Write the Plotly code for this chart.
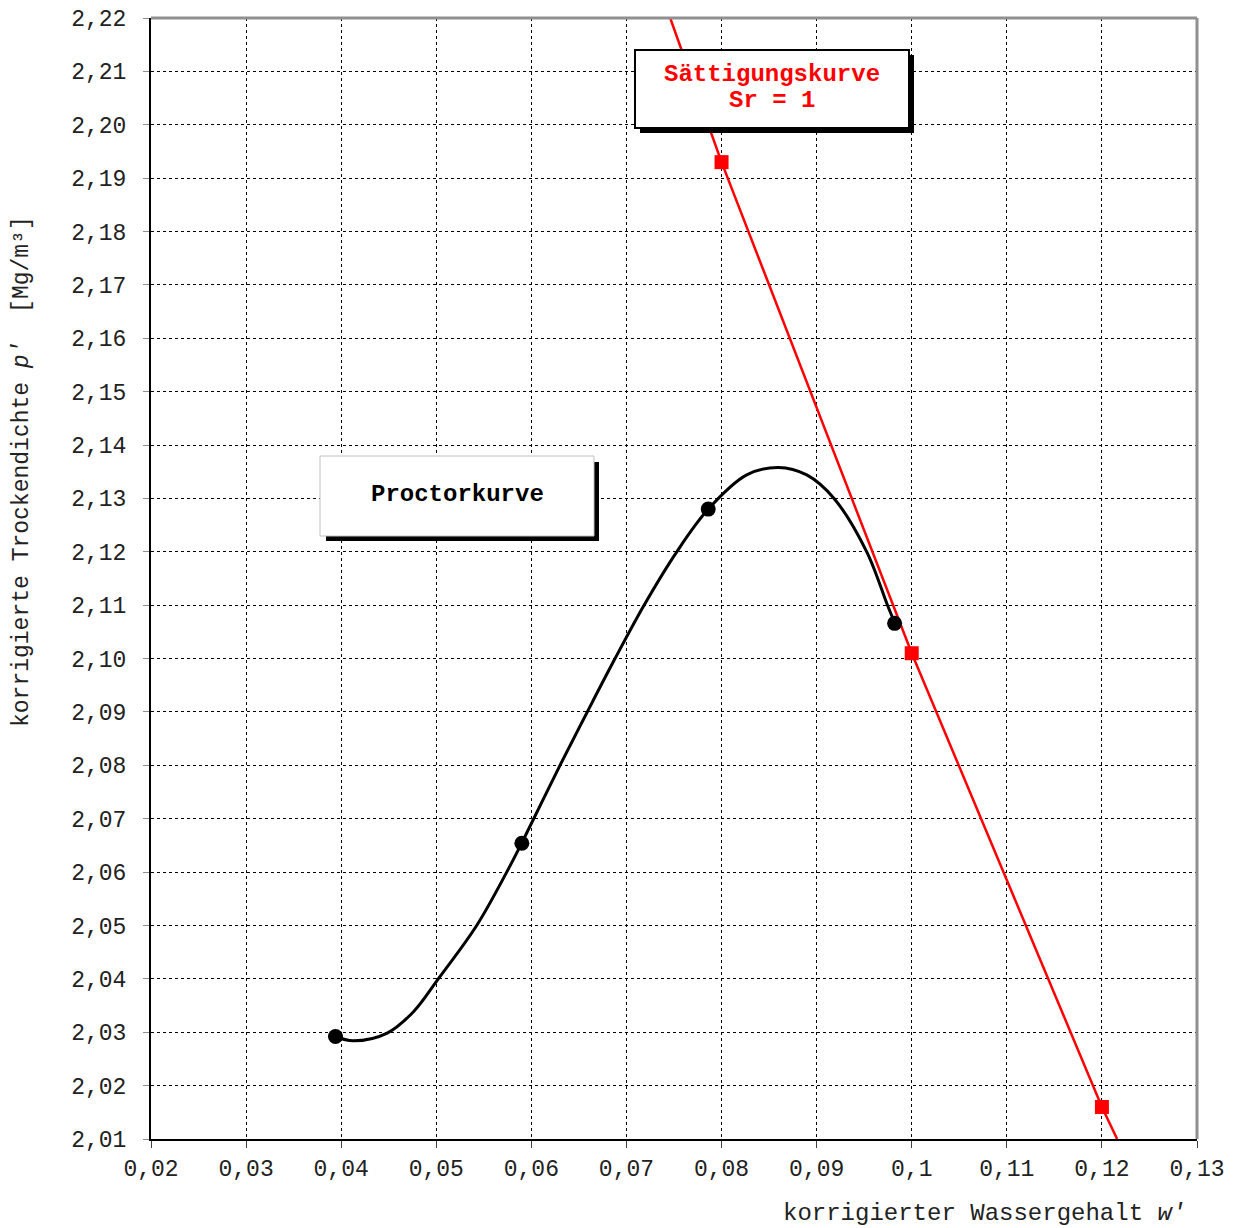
import plotly.graph_objects as go

# Proctor test points (water content w', dry density rho')
proctor_w = [0.0394, 0.0590, 0.0786, 0.0982]
proctor_rho = [2.0292, 2.0654, 2.1280, 2.1066]

# Proctor curve as drawn
proctor_curve_w = [0.03935, 0.04127, 0.04479, 0.04758, 0.05021, 0.05425, 0.05741, 0.05898,
                   0.06301, 0.06588, 0.06880, 0.07185, 0.07529, 0.07861,
                   0.08265, 0.08597, 0.08896, 0.09183, 0.09527, 0.09745, 0.09824]
proctor_curve_rho = [2.0292, 2.0284, 2.0298, 2.0338, 2.0400, 2.0500, 2.0600, 2.0654,
                     2.0800, 2.0900, 2.1000, 2.1100, 2.1200, 2.1280,
                     2.1344, 2.1358, 2.1344, 2.1300, 2.1200, 2.1100, 2.1066]

# Saturation curve Sr = 1 (marked points)
sat_w = [0.080, 0.100, 0.120]
sat_rho = [2.193, 2.101, 2.016]

# Saturation line as drawn (incl. ends read at the plot borders)
sat_line_w = [0.0746, 0.080, 0.100, 0.120, 0.1216]
sat_line_rho = [2.220, 2.193, 2.101, 2.016, 2.010]

x_tickvals = [0.02, 0.03, 0.04, 0.05, 0.06, 0.07, 0.08, 0.09, 0.10, 0.11, 0.12, 0.13]
x_ticktext = ["0,02", "0,03", "0,04", "0,05", "0,06", "0,07", "0,08", "0,09", "0,1", "0,11", "0,12", "0,13"]
y_tickvals = [round(2.01 + 0.01 * i, 2) for i in range(22)]
y_ticktext = [("%.2f" % v).replace(".", ",") for v in y_tickvals]

FONT = "Liberation Mono, Courier New, monospace"

fig = go.Figure()

fig.add_trace(go.Scatter(
    x=sat_line_w, y=sat_line_rho, mode="lines",
    line=dict(color="#ff0000", width=2.5), showlegend=False, hoverinfo="skip"))
fig.add_trace(go.Scatter(
    x=sat_w, y=sat_rho, mode="markers",
    marker=dict(symbol="square", size=14, color="#ff0000"), showlegend=False))
fig.add_trace(go.Scatter(
    x=proctor_curve_w, y=proctor_curve_rho, mode="lines",
    line=dict(color="black", width=3, shape="spline", smoothing=1.0, simplify=False),
    showlegend=False, hoverinfo="skip"))
fig.add_trace(go.Scatter(
    x=proctor_w, y=proctor_rho, mode="markers",
    marker=dict(symbol="circle", size=15, color="black"), showlegend=False))

def px_x(p):
    return (p - 151) / 1046.0

def px_y(p):
    return (1139 - p) / 1121.0

shapes = []
# top / right gray border
shapes.append(dict(type="line", xref="paper", yref="paper", x0=0, x1=1, y0=1, y1=1,
                   line=dict(color="#909090", width=3), layer="above"))
shapes.append(dict(type="line", xref="paper", yref="paper", x0=1, x1=1, y0=0, y1=1,
                   line=dict(color="#909090", width=3), layer="above"))
# Sättigungskurve box: shadow then box
shapes.append(dict(type="rect", xref="paper", yref="paper",
                   x0=px_x(640), x1=px_x(914), y0=px_y(133), y1=px_y(55),
                   fillcolor="black", line=dict(width=0), layer="above"))
shapes.append(dict(type="rect", xref="paper", yref="paper",
                   x0=px_x(635), x1=px_x(909), y0=px_y(128), y1=px_y(50),
                   fillcolor="white", line=dict(color="black", width=2), layer="above"))
# Proctorkurve box
shapes.append(dict(type="rect", xref="paper", yref="paper",
                   x0=px_x(326), x1=px_x(599), y0=px_y(541), y1=px_y(462),
                   fillcolor="black", line=dict(width=0), layer="above"))
shapes.append(dict(type="rect", xref="paper", yref="paper",
                   x0=px_x(320), x1=px_x(594), y0=px_y(536), y1=px_y(456),
                   fillcolor="white", line=dict(color="#c0c0c0", width=1), layer="above"))

annotations = [
    dict(xref="paper", yref="paper", x=px_x(772), y=px_y(74), showarrow=False,
         text="<b>Sättigungskurve</b>",
         font=dict(family=FONT, size=24, color="#ff0000"), xanchor="center", yanchor="middle"),
    dict(xref="paper", yref="paper", x=px_x(772), y=px_y(101), showarrow=False,
         text="<b>Sr = 1</b>",
         font=dict(family=FONT, size=24, color="#ff0000"), xanchor="center", yanchor="middle"),
    dict(xref="paper", yref="paper", x=px_x(457), y=px_y(495), showarrow=False,
         text="<b>Proctorkurve</b>", font=dict(family=FONT, size=24, color="black"),
         xanchor="center", yanchor="middle"),
    dict(xref="paper", yref="paper", x=px_x(1188), y=px_y(1214), showarrow=False,
         text="korrigierter Wassergehalt <i>w'</i>", font=dict(family=FONT, size=24, color="#222"),
         xanchor="right", yanchor="middle"),
    dict(xref="paper", yref="paper", x=px_x(22), y=px_y(472), showarrow=False,
         text="korrigierte Trockendichte <i>p'</i>  [Mg/m³]", textangle=-90,
         font=dict(family=FONT, size=23, color="#222"),
         xanchor="center", yanchor="middle"),
]

fig.update_layout(
    width=1238, height=1228,
    margin=dict(l=151, r=41, t=18, b=89, pad=0),
    paper_bgcolor="white", plot_bgcolor="white",
    font=dict(family=FONT, size=23, color="#222"),
    shapes=shapes, annotations=annotations, showlegend=False,
    xaxis=dict(range=[0.02, 0.13], tickvals=x_tickvals, ticktext=x_ticktext,
               showgrid=True, gridcolor="black", griddash="dot", gridwidth=1,
               showline=True, linecolor="black", linewidth=2,
               ticks="outside", ticklen=7, tickcolor="#404040", tickwidth=1,
               ticklabeloverflow="allow", automargin=False,
               zeroline=False, tickfont=dict(family=FONT, size=23, color="#222")),
    yaxis=dict(range=[2.01, 2.22], tickvals=y_tickvals, ticktext=y_ticktext,
               showgrid=True, gridcolor="black", griddash="dot", gridwidth=1,
               showline=True, linecolor="black", linewidth=2,
               ticks="outside", ticklen=6, tickcolor="#909090", tickwidth=1,
               ticklabelstandoff=12, ticklabeloverflow="allow", automargin=False,
               zeroline=False, tickfont=dict(family=FONT, size=23, color="#222")),
)

fig.write_html(
    "out.html",
    config={"displayModeBar": False},
    post_script="document.body.style.margin='0';document.body.style.overflow='hidden';",
)
